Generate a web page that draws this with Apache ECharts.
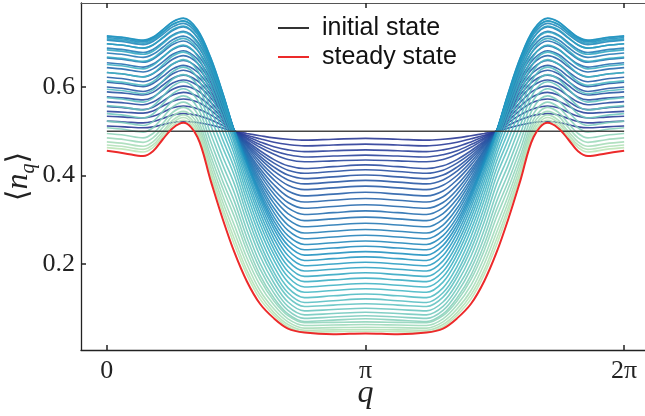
<!DOCTYPE html>
<html>
<head>
<meta charset="UTF-8">
<title></title>
<script src="https://cdn.jsdelivr.net/npm/echarts@6/dist/echarts.min.js"></script>
<style>
* { padding: 0; margin: 0; }
#main { width: 645px; height: 416px; }
</style>
</head>
<body>
<div id="main"></div>
<script>
// q samples from 0 to pi; the curves are symmetric about pi
var qHalf = [0, 0.22, 0.44, 0.56, 0.68, 0.80, 0.93, 1.10, 1.26, 1.41, 1.55, 1.70, 1.86, 2.03, 2.20, 2.40, 2.75, 3.1416];

var xTickValues = [0, Math.PI, 2 * Math.PI];
var xTickLabels = ['0', 'π', '2π'];
var yTickValues = [0.2, 0.4, 0.6];
var yTickLabels = ['0.2', '0.4', '0.6'];

var initialState = [.5, .5, .5, .5, .5, .5, .5, .5, .5, .5, .5, .5, .5, .5, .5, .5, .5, .5];
var steadyState = [.456, .450, .444, .455, .482, .507, .519, .487, .389, .300, .226, .161, .110, .077, .054, .045, .041, .043];

// time snapshots, early -> late
var curves = [
  [.512, .510, .508, .510, .515, .520, .522, .520, .514, .507, .500, .495, .490, .485, .482, .480, .482, .484],
  [.523, .521, .519, .522, .529, .537, .540, .536, .526, .513, .500, .491, .483, .475, .470, .467, .469, .471],
  [.534, .532, .530, .534, .543, .553, .557, .551, .537, .519, .500, .488, .476, .465, .458, .454, .456, .458],
  [.545, .543, .541, .546, .557, .568, .573, .566, .548, .524, .500, .485, .470, .456, .447, .442, .444, .446],
  [.556, .553, .549, .554, .568, .582, .588, .579, .557, .529, .500, .482, .464, .448, .436, .431, .433, .435],
  [.567, .564, .560, .566, .580, .595, .602, .592, .566, .534, .500, .478, .456, .436, .422, .416, .420, .424],
  [.578, .575, .571, .577, .593, .609, .616, .604, .576, .539, .500, .475, .450, .428, .412, .405, .409, .413],
  [.589, .586, .582, .588, .604, .620, .627, .614, .583, .542, .500, .472, .444, .419, .401, .393, .397, .401],
  [.600, .596, .590, .597, .613, .630, .638, .624, .590, .546, .500, .469, .438, .410, .390, .381, .385, .389],
  [.611, .607, .601, .608, .624, .641, .649, .634, .597, .550, .500, .466, .431, .400, .378, .368, .372, .376],
  [.622, .618, .612, .619, .635, .652, .660, .644, .604, .553, .500, .462, .424, .390, .365, .354, .358, .362],
  [.633, .629, .623, .630, .646, .663, .671, .654, .611, .557, .500, .458, .416, .379, .352, .340, .344, .348],
  [.644, .640, .634, .641, .657, .674, .682, .663, .618, .561, .500, .455, .409, .368, .339, .326, .330, .334],
  [.655, .651, .645, .652, .668, .685, .693, .673, .626, .564, .500, .451, .402, .358, .327, .312, .316, .320],
  [.666, .662, .656, .663, .679, .696, .704, .683, .633, .568, .500, .447, .394, .347, .314, .298, .302, .306],
  [.677, .673, .667, .674, .690, .707, .715, .693, .640, .572, .500, .444, .387, .337, .301, .284, .288, .292],
  [.688, .684, .678, .685, .701, .718, .726, .703, .647, .575, .500, .440, .380, .326, .288, .270, .274, .278],
  [.698, .694, .688, .695, .711, .728, .736, .712, .654, .579, .500, .437, .373, .316, .276, .257, .261, .265],
  [.706, .702, .696, .703, .719, .736, .744, .719, .659, .581, .500, .433, .366, .306, .264, .244, .248, .252],
  [.712, .708, .702, .709, .725, .742, .750, .725, .663, .583, .500, .430, .360, .297, .253, .232, .236, .240],
  [.716, .712, .706, .713, .730, .748, .756, .730, .667, .585, .500, .427, .354, .288, .242, .220, .224, .228],
  [.715, .711, .705, .712, .729, .747, .755, .729, .666, .585, .500, .424, .347, .279, .231, .208, .212, .216],
  [.709, .705, .699, .706, .723, .741, .749, .723, .659, .579, .496, .416, .338, .268, .219, .196, .200, .204],
  [.698, .694, .688, .695, .712, .730, .738, .712, .648, .570, .490, .408, .328, .257, .207, .184, .188, .192],
  [.684, .680, .674, .681, .698, .716, .724, .699, .634, .558, .481, .398, .316, .245, .195, .172, .176, .180],
  [.668, .664, .658, .665, .683, .701, .710, .685, .620, .545, .472, .386, .304, .233, .183, .160, .164, .168],
  [.651, .647, .641, .649, .667, .686, .695, .670, .604, .531, .460, .373, .291, .221, .171, .148, .152, .156],
  [.633, .629, .623, .631, .650, .670, .679, .655, .587, .515, .447, .359, .277, .208, .159, .136, .140, .144],
  [.614, .610, .604, .612, .632, .652, .662, .638, .569, .498, .432, .344, .262, .194, .146, .124, .128, .132],
  [.595, .591, .585, .593, .614, .635, .645, .621, .551, .480, .416, .328, .247, .181, .135, .113, .117, .121],
  [.576, .572, .566, .575, .596, .618, .628, .604, .532, .462, .399, .312, .233, .170, .125, .104, .107, .110],
  [.558, .554, .548, .557, .579, .602, .612, .587, .514, .442, .380, .295, .218, .157, .114, .094, .097, .100],
  [.540, .536, .530, .539, .562, .585, .596, .571, .495, .423, .360, .277, .202, .145, .104, .085, .088, .091],
  [.523, .519, .513, .522, .545, .569, .580, .554, .477, .404, .341, .260, .189, .134, .095, .077, .080, .083],
  [.508, .504, .498, .508, .531, .555, .566, .540, .460, .386, .323, .244, .175, .123, .087, .070, .073, .076],
  [.495, .491, .485, .495, .518, .543, .554, .527, .445, .370, .306, .230, .165, .116, .083, .067, .068, .069],
  [.485, .481, .475, .485, .509, .534, .545, .517, .432, .353, .287, .214, .152, .107, .076, .061, .062, .063],
  [.476, .472, .466, .476, .500, .525, .537, .508, .420, .339, .271, .200, .140, .098, .069, .055, .056, .057],
  [.469, .465, .459, .469, .494, .519, .531, .501, .409, .326, .256, .186, .130, .090, .063, .050, .051, .052],
  [.463, .459, .453, .463, .488, .513, .525, .494, .400, .315, .243, .176, .121, .084, .058, .046, .047, .048]
];

// YlGnBu stops
var cmap = ['#ffffd9', '#edf8b1', '#c7e9b4', '#7fcdbb', '#41b6c4', '#1d91c0', '#225ea8', '#253494', '#081d58'];

function hex2rgb(h) {
  return [parseInt(h.substr(1, 2), 16), parseInt(h.substr(3, 2), 16), parseInt(h.substr(5, 2), 16)];
}
function cmapColor(t) {
  var p = t * (cmap.length - 1);
  var i = Math.min(Math.floor(p), cmap.length - 2);
  var f = p - i;
  var a = hex2rgb(cmap[i]), b = hex2rgb(cmap[i + 1]);
  return 'rgb(' + [0, 1, 2].map(function (j) { return Math.round(a[j] + (b[j] - a[j]) * f); }).join(',') + ')';
}
// position in the colormap for curve i
function curveT(i) {
  return i <= 20 ? 0.88 - 0.25 * i / 20 : 0.63 - 0.36 * (i - 20) / 19;
}

function fullCurve(vals) {
  var pts = [];
  for (var i = 0; i < qHalf.length; i++) pts.push([qHalf[i], vals[i]]);
  for (var j = qHalf.length - 2; j >= 0; j--) pts.push([2 * Math.PI - qHalf[j], vals[j]]);
  return pts;
}

var series = [];
for (var k = 0; k < curves.length; k++) {
  series.push({
    name: 'c' + k,
    type: 'line',
    data: fullCurve(curves[k]),
    symbol: 'none',
    smooth: 0.35,
    lineStyle: { color: cmapColor(curveT(k)), width: 1.6, opacity: 0.88 },
    z: 2
  });
}
series.push({
  name: 'initial state', type: 'line', data: fullCurve(initialState),
  symbol: 'none', color: '#333', lineStyle: { color: '#333', width: 1.5, opacity: 0.9 }, z: 3
});
series.push({
  name: 'steady state', type: 'line', data: fullCurve(steadyState), smooth: 0.35,
  symbol: 'none', color: '#ec2a2a', lineStyle: { color: '#ec2a2a', width: 2 }, z: 4
});

var tickStyle = { show: true, inside: true, length: 5, lineStyle: { color: '#222', width: 1.5 } };
var lineStyle = { show: true, onZero: false, lineStyle: { color: '#222', width: 1.3 } };
var boxLine = { show: true, onZero: false, lineStyle: { color: '#555', width: 1.2 } };

function pick(values, labels) {
  return function (v) {
    for (var i = 0; i < values.length; i++) if (Math.abs(v - values[i]) < 1e-6) return labels[i];
    return '';
  };
}

var chart = echarts.init(document.getElementById('main'));
chart.setOption({
  animation: false,
  grid: { left: 81, right: -5, top: 3, bottom: 66, outerBoundsMode: 'none' },
  legend: {
    data: ['initial state', 'steady state'],
    orient: 'vertical', left: 273, top: 9,
    icon: 'rect', itemWidth: 31, itemHeight: 2, itemGap: 1,
    textStyle: { fontFamily: 'Liberation Sans', fontSize: 25, color: '#111', lineHeight: 28, padding: [0, 0, 0, 8] }
  },
  xAxis: [{
    type: 'value', min: -0.314, max: 2 * Math.PI + 0.314, position: 'bottom',
    axisLine: lineStyle,
    axisTick: Object.assign({ customValues: xTickValues }, tickStyle),
    axisLabel: {
      customValues: xTickValues, margin: 8,
      fontFamily: 'Liberation Serif', fontSize: 26, color: '#222',
      formatter: pick(xTickValues, xTickLabels)
    },
    splitLine: { show: false },
    name: 'q', nameLocation: 'middle', nameGap: 28, nameMoveOverlap: false,
    nameTextStyle: { fontFamily: 'Liberation Serif', fontStyle: 'italic', fontSize: 32, color: '#222' }
  }, {
    type: 'value', min: -0.314, max: 2 * Math.PI + 0.314, position: 'top',
    axisLine: boxLine,
    axisTick: Object.assign({ customValues: xTickValues }, tickStyle),
    axisLabel: { show: false }, splitLine: { show: false }
  }],
  yAxis: [{
    type: 'value', min: 0.0055, max: 0.790, position: 'left',
    axisLine: lineStyle,
    axisTick: Object.assign({ customValues: yTickValues }, tickStyle),
    axisLabel: {
      customValues: yTickValues, margin: 6,
      fontFamily: 'Liberation Serif', fontSize: 26, color: '#222',
      formatter: pick(yTickValues, yTickLabels)
    },
    splitLine: { show: false },
    name: '{a|⟨}{b|n}{c|q}{a|⟩}', nameLocation: 'middle', nameRotate: 90, nameGap: 42, nameMoveOverlap: false,
    nameTextStyle: {
      color: '#222',
      rich: {
        a: { fontFamily: 'DejaVu Serif', fontSize: 30, lineHeight: 40, color: '#222' },
        b: { fontFamily: 'Liberation Serif', fontStyle: 'italic', fontSize: 32, lineHeight: 40, color: '#222' },
        c: { fontFamily: 'Liberation Serif', fontStyle: 'italic', fontSize: 20, lineHeight: 40, verticalAlign: 'bottom', color: '#222' }
      }
    }
  }, {
    type: 'value', min: 0.0055, max: 0.790, position: 'right',
    axisLine: boxLine,
    axisTick: Object.assign({ customValues: yTickValues }, tickStyle),
    axisLabel: { show: false }, splitLine: { show: false }
  }],
  series: series
});
</script>
</body>
</html>
